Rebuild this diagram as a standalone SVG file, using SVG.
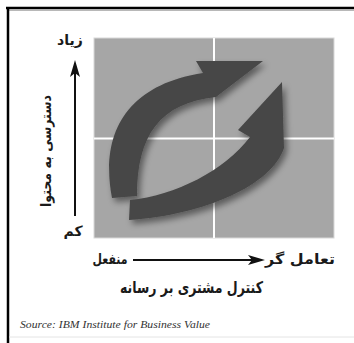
<svg xmlns="http://www.w3.org/2000/svg" width="354" height="343" viewBox="0 0 354 343">
<defs>
<filter id="sh" x="-20%" y="-20%" width="150%" height="150%">
<feDropShadow dx="3" dy="4" stdDeviation="3" flood-color="#000" flood-opacity="0.45"/>
</filter>
<style>
.fa{font-family:"DejaVu Sans",sans-serif;font-weight:bold;fill:#1a1a1a;text-anchor:middle}
.ax{stroke:#111;stroke-width:2;fill:none}
.ah{fill:#111}
.arw{fill:#474747;filter:url(#sh)}
</style>
</defs>
<rect width="354" height="343" fill="#fff"/>
<g id="frame">
<line x1="6" y1="8" x2="354" y2="8" stroke="#000" stroke-width="2.5"/>
<line x1="9" y1="10.2" x2="354" y2="10.2" stroke="#999" stroke-width="1"/>
<line x1="8" y1="7" x2="8" y2="343" stroke="#000" stroke-width="2.5"/>
<line x1="9" y1="337" x2="354" y2="337" stroke="#e4e4e4" stroke-width="1"/>
</g>
<g id="grid">
<rect x="94" y="38" width="240" height="200" fill="#a6a6a6" stroke="#d8d8d8" stroke-width="1"/>
<line x1="214" y1="38" x2="214" y2="238" stroke="#fff" stroke-width="2"/>
<line x1="94" y1="138.5" x2="334" y2="138.5" stroke="#fff" stroke-width="2"/>
</g>
<g id="arrow-outer">
<path class="arw" d="M196,61 L263,61 L216,97 C160,103 137,135 137,196 L112,198 C100,135 125,85 203,73 Z"/>
</g>
<g id="arrow-inner">
<path class="arw" d="M130,200 C175,196 225,170 250,137 L238,130 L282,82 L284,148 C272,185 205,215 129,220 Z"/>
</g>
<g id="connectors">
<line class="ax" x1="133" y1="260" x2="255" y2="260"/>
<polygon class="ah" points="265,260 248,255 252,260 248,265"/>
<line class="ax" x1="75" y1="216" x2="75" y2="70"/>
<polygon class="ah" points="75,60 70,77 75,73 80,77"/>
</g>
<g id="labels">
<text class="fa" x="70" y="45" font-size="14">زیاد</text>
<text class="fa" x="0" y="0" font-size="14" transform="translate(51,151) rotate(-90)" textLength="112" lengthAdjust="spacingAndGlyphs">دسترسی به محتوا</text>
<text class="fa" x="73" y="236" font-size="14">کم</text>
<text class="fa" x="0" y="0" font-size="14" transform="translate(110,264) scale(0.78,1)">منفعل</text>
<text class="fa" x="300" y="264" font-size="14" textLength="70" lengthAdjust="spacingAndGlyphs">تعامل گر</text>
<text class="fa" x="191.5" y="293" font-size="16" textLength="143" lengthAdjust="spacingAndGlyphs">کنترل مشتری بر رسانه</text>
<text x="20" y="328" font-family="Liberation Serif,serif" font-style="italic" font-size="10.5" fill="#333" textLength="190" lengthAdjust="spacingAndGlyphs">Source: IBM Institute for Business Value</text>
</g>
</svg>
